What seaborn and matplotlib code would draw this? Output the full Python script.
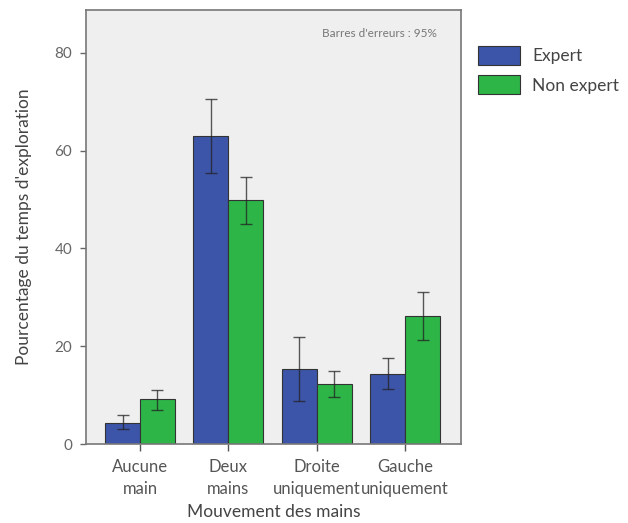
import numpy as np
import pandas as pd
import matplotlib
matplotlib.use("Agg")
import matplotlib.pyplot as plt
import seaborn as sns

# données
categories = ["Aucune\nmain", "Deux\nmains", "Droite\nuniquement", "Gauche\nuniquement"]
groupes = ["Expert", "Non expert"]
expert = [4.4, 63.0, 15.3, 14.3]
non_expert = [9.2, 49.9, 12.2, 26.1]
expert_bas = [3.0, 55.5, 8.7, 11.2]
expert_haut = [5.9, 70.5, 21.8, 17.5]
non_expert_bas = [7.0, 45.0, 9.6, 21.3]
non_expert_haut = [11.0, 54.7, 14.9, 31.0]

sns.set_theme(style="white")
plt.rcParams['font.family'] = ['Lato', 'DejaVu Sans']

df = pd.DataFrame({
    "Mouvement": categories * 2,
    "Groupe": [groupes[0]] * 4 + [groupes[1]] * 4,
    "Valeur": expert + non_expert,
})

fig = plt.figure(figsize=(6.28, 5.23), dpi=100)
ax = fig.add_axes([0.137, 0.151, 0.597, 0.830])
ax.set_facecolor("#efefef")

couleurs = {"Expert": "#3d55a8", "Non expert": "#2db548"}
sns.barplot(data=df, x="Mouvement", y="Valeur", hue="Groupe", palette=couleurs,
            errorbar=None, width=0.79, edgecolor="#333333", linewidth=0.8,
            saturation=1, ax=ax)

# barres d'erreurs 95%
bas = [expert_bas, non_expert_bas]
haut = [expert_haut, non_expert_haut]
moy = [expert, non_expert]
conteneurs = list(ax.containers)
for i, cont in enumerate(conteneurs):
    xs = [p.get_x() + p.get_width() / 2 for p in cont.patches]
    m = np.array(moy[i])
    err = [m - np.array(bas[i]), np.array(haut[i]) - m]
    ax.errorbar(xs, m, yerr=err, fmt="none", ecolor="#222222", elinewidth=1.0,
                capsize=4, capthick=1.0, alpha=0.75)

ax.set_ylim(0, 88.8)
ax.set_xlim(-0.61, 3.63)
ax.set_yticks([0, 20, 40, 60, 80])
ax.tick_params(axis="y", colors="#666666", labelsize=11, length=4, width=1,
               left=True, pad=6)
ax.tick_params(axis="x", colors="#555555", labelsize=12, length=5, width=1,
               bottom=True, pad=6)
for lab in ax.get_xticklabels():
    lab.set_linespacing(1.45)
for s in ax.spines.values():
    s.set_color("#777777")
    s.set_linewidth(1.2)

ax.set_xlabel("Mouvement des mains", fontsize=12.5, color="#444444", labelpad=5)
ax.set_ylabel("Pourcentage du temps d'exploration", fontsize=12.5, color="#444444",
              labelpad=16)
ax.text(0.936, 0.945, "Barres d'erreurs : 95%", transform=ax.transAxes, ha="right",
        va="center", fontsize=8.5, color="#777777")

ax.legend(loc="upper left", bbox_to_anchor=(1.005, 0.953), frameon=False,
          fontsize=12.5, handlelength=2.4, handleheight=1.3, handletextpad=0.7,
          labelspacing=0.6, labelcolor="#444444", title=None)

fig.savefig("out.png", dpi=100)
